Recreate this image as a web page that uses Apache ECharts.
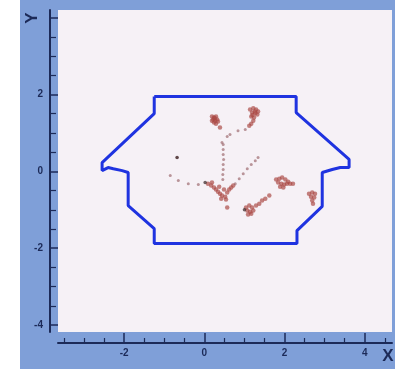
<!DOCTYPE html>
<html><head><meta charset="utf-8">
<script src="https://cdn.jsdelivr.net/npm/echarts@6/dist/echarts.min.js"></script>
<style>html,body{margin:0;padding:0;background:#fff}#c{width:395px;height:369px}</style>
</head><body><div id="c"></div>
<script>
// Axis ticks / labels
const xMajorTicks = [-2, 0, 2, 4];
const xMinorTicks = [-3.5, -3, -2.5, -1.5, -1, -0.5, 0.5, 1, 1.5, 2.5, 3, 3.5, 4.5];
const xTickLabels = [-2, 0, 2, 4];
const yMajorTicks = [-4, -2, 0, 2, 4];
const yMinorTicks = [-3.5, -3, -2.5, -1.5, -1, -0.5, 0.5, 1, 1.5, 2.5, 3, 3.5];
const yTickLabels = [-4, -2, 0, 2];

// Boundary polygon (blue outline)
const boundary = [
  [-1.25, 1.95], [-1.25, 1.505], [-2.55, 0.23], [-2.55, 0.02], [-2.40, 0.10],
  [-2.27, 0.07], [-2.05, 0.02], [-1.90, -0.03], [-1.90, -0.89], [-1.25, -1.49],
  [-1.25, -1.88], [2.31, -1.88], [2.31, -1.54], [2.94, -0.91], [2.94, -0.03],
  [3.19, 0.05], [3.39, 0.10], [3.61, 0.10], [3.61, 0.31], [2.29, 1.53],
  [2.29, 1.95], [-1.25, 1.95]
];

// Scattered particle positions
const clusterA = [[0.19,1.43],[0.24,1.40],[0.29,1.43],[0.22,1.35],[0.27,1.32],[0.32,1.35],[0.24,1.27],[0.29,1.24],[0.34,1.30],[0.19,1.32],[0.26,1.38],[0.39,1.14]];
const clusterB = [[1.14,1.61],[1.22,1.64],[1.29,1.61],[1.34,1.56],[1.19,1.53],[1.27,1.51],[1.32,1.48],[1.17,1.43],[1.24,1.40],[1.22,1.32],[1.17,1.24],[1.12,1.19],[1.26,1.56],[1.20,1.47]];
const trailB = [[1.02,1.09],[0.84,1.06],[0.64,0.96],[0.57,0.91],[0.44,0.75]];
const stem = [[0.47,0.70],[0.47,0.57],[0.47,0.44],[0.48,0.31],[0.47,0.18],[0.47,0.05],[0.46,-0.08],[0.46,-0.21]];
const leftDots = [[-0.68,0.36],[-0.85,-0.11],[-0.65,-0.24],[-0.40,-0.32],[-0.15,-0.34]];
const clusterV = [[0.09,-0.32],[0.17,-0.37],[0.24,-0.42],[0.29,-0.47],[0.34,-0.53],[0.39,-0.58],[0.44,-0.63],[0.52,-0.66],[0.57,-0.55],[0.62,-0.47],[0.67,-0.42],[0.72,-0.37],[0.49,-0.47],[0.37,-0.40],[0.54,-0.73],[0.42,-0.71],[0.19,-0.29]];
const diagV = [[0.77,-0.32],[0.87,-0.19],[0.97,-0.06],[1.07,0.07],[1.17,0.18],[1.27,0.28],[1.34,0.36]];
const clusterC = [[1.79,-0.21],[1.87,-0.19],[1.94,-0.16],[2.02,-0.21],[2.09,-0.27],[1.84,-0.29],[1.92,-0.32],[1.99,-0.34],[2.06,-0.32],[1.89,-0.40],[1.97,-0.42],[2.14,-0.32],[2.21,-0.32]];
const clusterD = [[2.61,-0.58],[2.69,-0.55],[2.76,-0.58],[2.66,-0.66],[2.74,-0.68],[2.69,-0.76],[2.71,-0.84]];
const clusterE = [[1.04,-0.94],[1.12,-0.89],[1.19,-0.94],[1.07,-1.02],[1.14,-1.05],[1.22,-1.02],[1.09,-1.12],[1.17,-1.10],[1.29,-0.89],[1.37,-0.84],[1.44,-0.76],[1.52,-0.71],[1.62,-0.63],[0.57,-0.94]];
const darkDots = [[0.02,-0.29],[-0.68,0.36],[1.00,-1.00]];

const axisColor = '#1c2a58';
const font = "'Liberation Sans', Arial, sans-serif";
const blobs = [].concat(clusterA, clusterB, clusterV, clusterC, clusterD, clusterE);
const trails = [].concat(trailB, stem, leftDots, diagV);

const chart = echarts.init(document.getElementById('c'), null, {renderer: 'canvas'});
chart.setOption({
  animation: false,
  backgroundColor: '#7f9fd8',
  grid: {left: 58, top: 10, right: 3, bottom: 37, show: true, backgroundColor: '#f6f1f6', borderWidth: 0},
  xAxis: [
    {type: 'value', min: -3.65, max: 4.68, position: 'bottom', offset: 11,
     axisLine: {show: true, onZero: false, lineStyle: {color: axisColor, width: 2}},
     axisTick: {show: true, inside: true, length: 10, customValues: xMajorTicks, lineStyle: {color: axisColor, width: 1.5}},
     axisLabel: {customValues: xTickLabels, margin: 5, color: axisColor, fontSize: 10, fontWeight: 'bold', fontFamily: font},
     splitLine: {show: false}},
    {type: 'value', min: -3.65, max: 4.68, position: 'bottom', offset: 11,
     axisLine: {show: false, onZero: false},
     axisTick: {show: true, inside: true, length: 5, customValues: xMinorTicks, lineStyle: {color: axisColor, width: 1.2}},
     axisLabel: {show: false}, splitLine: {show: false}}
  ],
  yAxis: [
    {type: 'value', min: -4.18, max: 4.2, position: 'left', offset: 8,
     axisLine: {show: true, onZero: false, lineStyle: {color: axisColor, width: 2}},
     axisTick: {show: true, inside: true, length: 8, customValues: yMajorTicks, lineStyle: {color: axisColor, width: 1.5}},
     axisLabel: {customValues: yTickLabels, margin: 7, color: axisColor, fontSize: 10, fontWeight: 'bold', fontFamily: font},
     splitLine: {show: false}},
    {type: 'value', min: -4.18, max: 4.2, position: 'left', offset: 8,
     axisLine: {show: false, onZero: false},
     axisTick: {show: true, inside: true, length: 6, customValues: yMinorTicks, lineStyle: {color: axisColor, width: 1.2}},
     axisLabel: {show: false}, splitLine: {show: false}}
  ],
  graphic: [
    {type: 'rect', shape: {x: 0, y: 0, width: 20, height: 369}, style: {fill: '#ffffff'}, silent: true},
    {type: 'text', x: 32, y: 18, rotation: Math.PI / 2,
     style: {text: 'Y', fill: axisColor, font: "bold 17px " + font, align: 'center', verticalAlign: 'middle'}},
    {type: 'text', x: 388, y: 356,
     style: {text: 'X', fill: axisColor, font: "bold 17px " + font, align: 'center', verticalAlign: 'middle'}}
  ],
  series: [
    {type: 'line', xAxisIndex: 0, yAxisIndex: 0, data: boundary, showSymbol: false, silent: true,
     lineStyle: {color: '#1f33e0', width: 3}, z: 3},
    {type: 'scatter', xAxisIndex: 0, yAxisIndex: 0, data: blobs, symbolSize: 4.5,
     itemStyle: {color: 'rgba(170,72,68,0.85)'}, z: 4},
    {type: 'scatter', xAxisIndex: 0, yAxisIndex: 0, data: trails, symbolSize: 3,
     itemStyle: {color: 'rgba(150,95,100,0.8)'}, z: 4},
    {type: 'scatter', xAxisIndex: 0, yAxisIndex: 0, data: darkDots, symbolSize: 3.5,
     itemStyle: {color: 'rgba(60,40,40,0.9)'}, z: 5}
  ]
});
</script></body></html>
